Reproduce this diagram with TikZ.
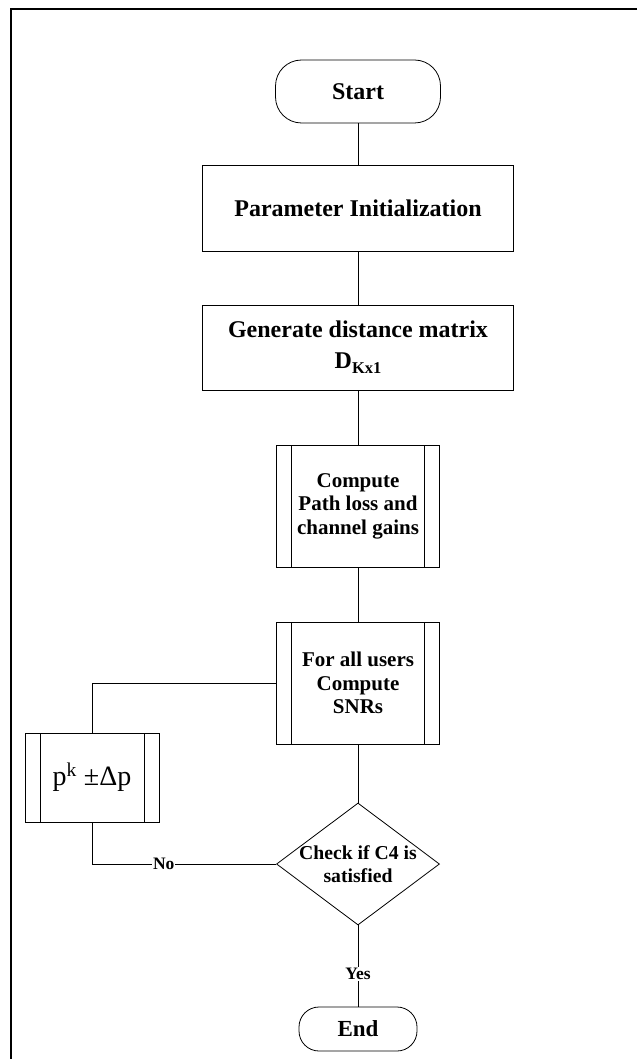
\documentclass[tikz,border=0pt]{standalone}
\usepackage{fontspec}
\setmainfont{Liberation Serif}
\usetikzlibrary{shapes.geometric}

\begin{document}
\begin{tikzpicture}[x=1pt, y=-1pt,
  line/.style={draw=black, line width=0.8pt},
  box/.style={line, rectangle, inner sep=0pt, align=center},
  term/.style={box, rounded corners=#1},
  proc/.style={box,
    path picture={
      \draw[line width=0.8pt]
        ([xshift=15pt]path picture bounding box.north west) --
        ([xshift=15pt]path picture bounding box.south west)
        ([xshift=-15pt]path picture bounding box.north east) --
        ([xshift=-15pt]path picture bounding box.south east);
    }},
  big/.style={font=\bfseries\fontsize{24}{28}\selectfont},
  mid/.style={font=\bfseries\fontsize{21}{23.5}\selectfont},
  lbl/.style={font=\bfseries\fontsize{17.5}{19}\selectfont, fill=white, inner sep=1pt}
]
\useasboundingbox (0,0) rectangle (637,1059);
\fill[white] (0,0) rectangle (637,1059);

% page frame (top and left edges)
\draw[line width=1.6pt] (637,9) -- (11,9) -- (11,1059);

% flow steps
\node[term=26pt, minimum width=165pt, minimum height=63pt,
      font=\bfseries\fontsize{24}{26}\selectfont] (start) at (358,91.5) {Start};
\node[box, big, minimum width=311pt, minimum height=86pt] (init) at (358,208)
  {Parameter Initialization};
\node[box, big, minimum width=311pt, minimum height=85pt] (dist) at (358,347.5)
  {Generate distance matrix\\[3pt]
   D\raisebox{-5pt}{\fontsize{16.5}{16.5}\selectfont Kx1}};
\node[proc, mid, minimum width=163pt, minimum height=122pt] (gain) at (358,506)
  {Compute\\Path loss and\\channel gains};
\node[proc, mid, minimum width=163pt, minimum height=122pt] (snr) at (358,683)
  {For all users\\Compute\\SNRs};
\node[proc, minimum width=134pt, minimum height=89pt,
      font=\fontsize{28}{30}\selectfont] (upd) at (92,777.5)
  {p\textsuperscript{k} ±Δp};
\node[diamond, line, inner sep=0pt, aspect=1.336,
      minimum width=163pt, minimum height=122pt] (chk) at (358,864) {};
\node[font=\bfseries\fontsize{19.7}{23}\selectfont, align=center, inner sep=0pt]
  (chktxt) at (chk.center) {Check if C4 is\\satisfied};
\node[term=20pt, minimum width=118pt, minimum height=44pt,
      font=\bfseries\fontsize{23}{24}\selectfont] (stop) at (358,1029) {End};

% connectors
\draw[line] (start) -- (init);
\draw[line] (init) -- (dist);
\draw[line] (dist) -- (gain);
\draw[line] (gain) -- (snr);
\draw[line] (snr) -- (chk);
\draw[line] (snr.west) -| (upd.north);
\draw[line] (chk.west) -| node[pos=0.305, lbl] (no) {No} (upd.south);
\draw[line] (chk.south) -- node[pos=0.6, lbl] (yes) {Yes} (stop.north);
\end{tikzpicture}
\end{document}
